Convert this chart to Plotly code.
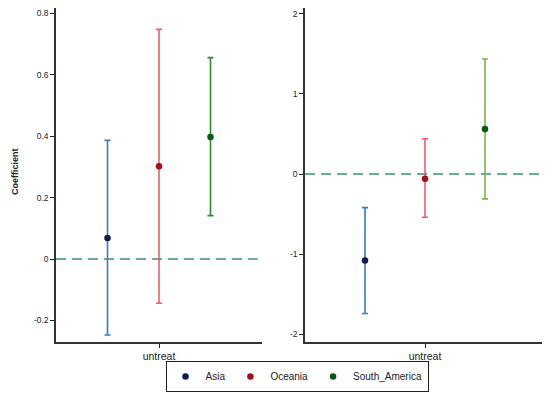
import plotly.graph_objects as go

regions = ["Asia", "Oceania", "South_America"]
xpos = [1, 2, 3]
x_tick_label = ["untreat"]

left_coef = [0.068, 0.302, 0.397]
left_lo = [-0.247, -0.144, 0.141]
left_hi = [0.386, 0.747, 0.655]

right_coef = [-1.08, -0.06, 0.56]
right_lo = [-1.74, -0.54, -0.31]
right_hi = [-0.42, 0.44, 1.435]

point_colors = ["#0d1b4f", "#a50f15", "#0b5a12"]
left_bar_colors = ["#3a7db5", "#e8606a", "#2e8b2e"]
right_bar_colors = ["#3a7db5", "#e8606a", "#7ab648"]

# page body has an 8px margin; figure placed at (8, 8)
OFF = 8
W, H = 550 - OFF, 393 - OFF


def px(x):
    return (x - OFF) / W


def py(y):
    return 1 - (y - OFF) / H


fig = go.Figure()

for i, r in enumerate(regions):
    fig.add_trace(go.Scatter(
        x=[xpos[i]], y=[left_coef[i]], mode="markers", name=r,
        marker=dict(color=point_colors[i], size=6.5),
        error_y=dict(type="data", symmetric=False,
                     array=[left_hi[i] - left_coef[i]],
                     arrayminus=[left_coef[i] - left_lo[i]],
                     color=left_bar_colors[i], thickness=1.6, width=3),
        xaxis="x", yaxis="y", showlegend=True, legendgroup=r))
    fig.add_trace(go.Scatter(
        x=[xpos[i]], y=[right_coef[i]], mode="markers", name=r,
        marker=dict(color=point_colors[i], size=6.5),
        error_y=dict(type="data", symmetric=False,
                     array=[right_hi[i] - right_coef[i]],
                     arrayminus=[right_coef[i] - right_lo[i]],
                     color=right_bar_colors[i], thickness=1.6, width=3),
        xaxis="x2", yaxis="y2", showlegend=False, legendgroup=r))

dash_color = "#3a9080"
fig.add_shape(type="line", xref="x domain", yref="y", x0=0, x1=1, y0=0, y1=0,
              line=dict(color=dash_color, width=1.3, dash="10px,6px"), layer="below")
fig.add_shape(type="line", xref="x2 domain", yref="y2", x0=0, x1=1, y0=0, y1=0,
              line=dict(color=dash_color, width=1.3, dash="10px,6px"), layer="below")

axis_font = dict(family="Arial, Liberation Sans", size=8.5, color="#222222")
xcommon = dict(range=[0, 4], tickvals=[2], ticktext=x_tick_label, ticks="outside",
               ticklen=4, tickwidth=1, tickcolor="#222", showgrid=False, zeroline=False,
               automargin=False,
               showline=True, linecolor="#333", linewidth=1.5,
               tickfont=dict(family="Arial, Liberation Sans", size=10.5, color="#222"))
ycommon = dict(ticks="outside", ticklen=4, tickcolor="#222", showgrid=False, zeroline=False,
               automargin=False, ticklabeloverflow="allow",
               showline=True, linecolor="#333", linewidth=1.5, tickfont=axis_font)
fig.update_layout(
    width=W, height=H,
    margin=dict(l=0, r=0, t=0, b=0, autoexpand=False),
    paper_bgcolor="white", plot_bgcolor="white",
    xaxis=dict(domain=[px(56), px(262)], anchor="y", **xcommon),
    xaxis2=dict(domain=[px(305), px(545)], anchor="y2", **xcommon),
    yaxis=dict(domain=[py(342), py(8)], range=[-0.27, 0.8165], anchor="x",
               tickvals=[-0.2, 0, 0.2, 0.4, 0.6, 0.8], ticktext=["-0.2", "0", "0.2", "0.4", "0.6", "0.8"],
               **ycommon),
    yaxis2=dict(domain=[py(342), py(8)], range=[-2.096, 2.071], anchor="x2",
                tickvals=[-2, -1, 0, 1, 2], ticktext=["-2", "-1", "0", "1", "2"],
                **ycommon),
    legend=dict(orientation="h", x=px(297), xanchor="center", y=py(376.5), yanchor="middle",
                bordercolor="#222", borderwidth=1, bgcolor="white",
                font=dict(family="Arial, Liberation Sans", size=10, color="#222"),
                itemwidth=30, tracegroupgap=0),
    annotations=[dict(text="<b>Coefficient</b>", x=px(8), y=py(172), xref="paper", yref="paper",
                      xanchor="left", textangle=-90, showarrow=False,
                      font=dict(family="Arial, Liberation Sans", size=9, color="#222"))],
    showlegend=True,
)

fig.write_html("out.html")
